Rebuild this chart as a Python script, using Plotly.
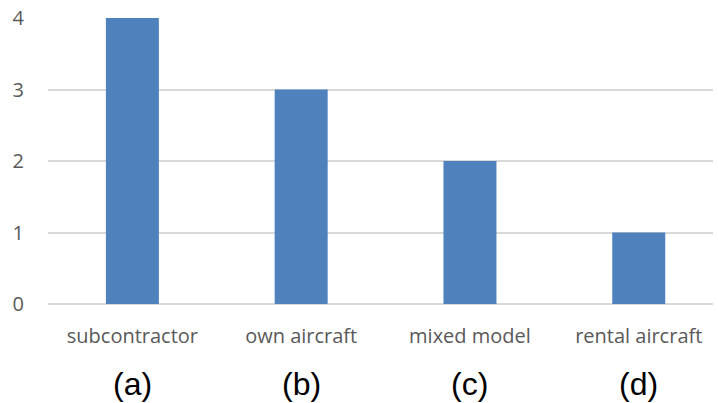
import plotly.graph_objects as go

categories = ["subcontractor", "own aircraft", "mixed model", "rental aircraft"]
values = [4, 3, 2, 1]
panel_labels = ["(a)", "(b)", "(c)", "(d)"]
y_ticks = [0, 1, 2, 3, 4]

fig = go.Figure()
fig.add_trace(go.Bar(
    x=categories, y=values,
    marker=dict(color="#4F81BD", line=dict(width=0)),
    width=0.314,
))

for cat, lab in zip(categories, panel_labels):
    fig.add_annotation(
        x=cat, y=-0.278, xref="x", yref="paper",
        text=lab, showarrow=False,
        font=dict(family="Liberation Sans, Arial", size=32, color="#000000"),
        xanchor="center", yanchor="middle",
    )

fig.update_layout(
    width=718, height=403,
    margin=dict(l=48, r=5, t=18, b=99),
    paper_bgcolor="white", plot_bgcolor="white",
    showlegend=False,
    font=dict(family="Open Sans", color="#595959", size=20),
)
fig.update_xaxes(
    type="category", range=[-0.5, 3.44],
    showgrid=False, showline=False, zeroline=False,
    ticks="", ticklabelstandoff=18,
    tickfont=dict(size=20, color="#595959", family="Open Sans"),
)
fig.update_yaxes(
    range=[0, 4], tickvals=y_ticks,
    showgrid=True, gridcolor="#D9D9D9", gridwidth=1.5,
    zeroline=True, zerolinecolor="#D9D9D9", zerolinewidth=1.5,
    showline=False, ticks="", ticklabelstandoff=23,
    tickfont=dict(size=20, color="#595959", family="Open Sans"),
)

fig.write_html("out.html", config={"displayModeBar": False},
               post_script="document.body.style.margin='0';")
